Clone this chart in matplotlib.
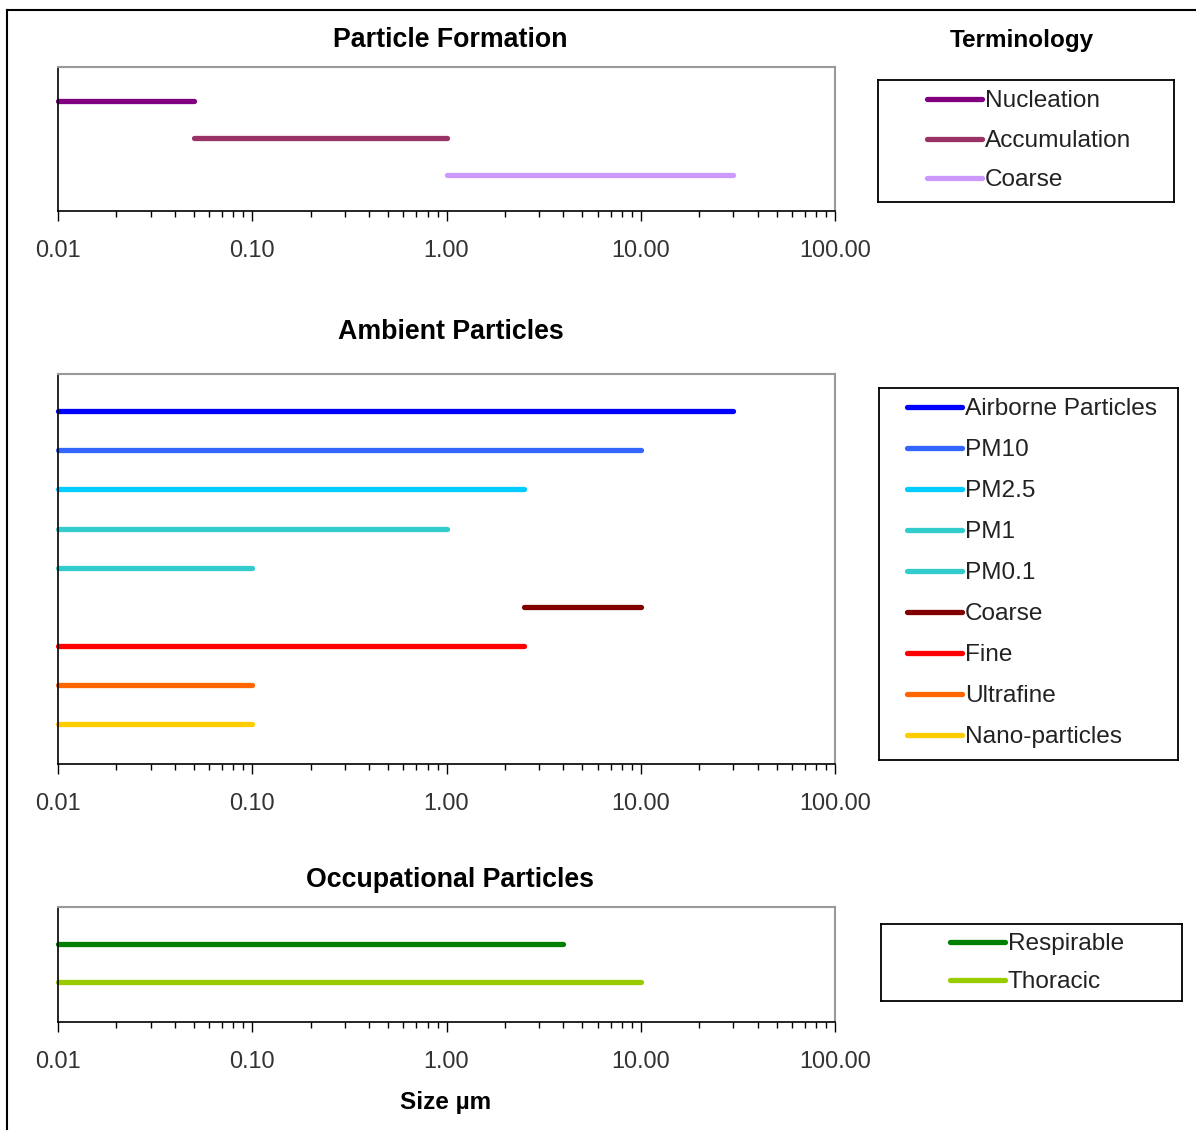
import matplotlib
matplotlib.use("Agg")
import matplotlib.pyplot as plt
from matplotlib.lines import Line2D
from matplotlib.ticker import FixedLocator, LogLocator, NullFormatter

# ---------------- data ----------------
formation_labels = ["Nucleation", "Accumulation", "Coarse"]
formation_start = [0.01, 0.05, 1.0]
formation_end = [0.05, 1.0, 30.0]
formation_colors = ["#800080", "#993366", "#CC99FF"]

ambient_labels = ["Airborne Particles", "PM10", "PM2.5", "PM1", "PM0.1",
                  "Coarse", "Fine", "Ultrafine", "Nano-particles"]
ambient_start = [0.01, 0.01, 0.01, 0.01, 0.01, 2.5, 0.01, 0.01, 0.01]
ambient_end = [30.0, 10.0, 2.5, 1.0, 0.1, 10.0, 2.5, 0.1, 0.1]
ambient_colors = ["#0000FF", "#3366FF", "#00CCFF", "#33CCCC", "#33CCCC",
                  "#800000", "#FF0000", "#FF6600", "#FFCC00"]

occ_labels = ["Respirable", "Thoracic"]
occ_start = [0.01, 0.01]
occ_end = [4.0, 10.0]
occ_colors = ["#008000", "#99CC00"]

tick_values = [0.01, 0.1, 1, 10, 100]
tick_labels = ["0.01", "0.10", "1.00", "10.00", "100.00"]

titles = ["Particle Formation", "Ambient Particles", "Occupational Particles"]
legend_title = "Terminology"
xlabel = "Size µm"

# ---------------- layout ----------------
W, H = 1196, 1130
plt.rcParams['font.family'] = ['Liberation Sans', 'DejaVu Sans']
fig = plt.figure(figsize=(W / 100, H / 100), dpi=100)
fig.patch.set_facecolor("white")


def fx(x):
    return x / W


def fy(y):
    return 1 - y / H


def add_px_axes(l, t, r, b):
    return fig.add_axes([fx(l), fy(b), fx(r) - fx(l), fy(t) - fy(b)])


# figure border (top and left)
fig.add_artist(Line2D([fx(7), fx(7)], [fy(10), fy(1135)], color="black", lw=1.5))
fig.add_artist(Line2D([fx(7), fx(1200)], [fy(10), fy(10)], color="black", lw=1.5))

panels = [
    dict(box=(58, 67, 835, 211), ylim=(3.97, 0.08), title_y=40,
         labels=formation_labels, start=formation_start, end=formation_end,
         colors=formation_colors,
         leg=dict(box=(878, 80, 1174, 202), hx=(927, 982), tx=985, rows=[99, 139, 178])),
    dict(box=(58, 374, 835, 764), ylim=(10.02, 0.05), title_y=332,
         labels=ambient_labels, start=ambient_start, end=ambient_end,
         colors=ambient_colors,
         leg=dict(box=(879, 388, 1178, 760), hx=(907, 962), tx=965,
                  rows=[407 + 41 * i for i in range(9)])),
    dict(box=(58, 907, 835, 1022), ylim=(3.05, 0.03), title_y=880,
         labels=occ_labels, start=occ_start, end=occ_end, colors=occ_colors,
         leg=dict(box=(881, 924, 1182, 1001), hx=(950, 1005), tx=1008, rows=[942, 980])),
]

for i, p in enumerate(panels):
    l, t, r, b = p["box"]
    ax = add_px_axes(l, t, r, b)
    ax.set_xscale("log")
    ax.set_xlim(0.01, 100)
    ax.set_ylim(*p["ylim"])
    for k, (s, e, c) in enumerate(zip(p["start"], p["end"], p["colors"])):
        ax.plot([s, e], [k + 1, k + 1], color=c, lw=3.8, solid_capstyle="round",
                clip_on=False)
    ax.xaxis.set_major_locator(FixedLocator(tick_values))
    ax.set_xticklabels(tick_labels)
    ax.xaxis.set_minor_locator(LogLocator(base=10, subs=[2, 3, 4, 5, 6, 7, 8, 9]))
    ax.xaxis.set_minor_formatter(NullFormatter())
    ax.tick_params(axis="x", which="major", direction="out", length=7, width=1,
                   color="black", labelsize=16.8, labelcolor="#333333", pad=13)
    ax.tick_params(axis="x", which="minor", direction="out", length=4, width=1,
                   color="black")
    ax.set_yticks([])
    for sp in ["left", "bottom"]:
        ax.spines[sp].set_color("black")
        ax.spines[sp].set_linewidth(1.2)
    for sp in ["top", "right"]:
        ax.spines[sp].set_color("#999999")
        ax.spines[sp].set_linewidth(1.5)
    fig.text(fx((l + r) / 2 + 4), fy(p["title_y"]), titles[i], ha="center",
             va="center", fontsize=19.3, fontweight="bold", color="black")

    # legend box
    lg = p["leg"]
    bl, bt, br, bb = lg["box"]
    lax = add_px_axes(bl, bt, br, bb)
    lax.set_xlim(bl, br)
    lax.set_ylim(bb, bt)
    lax.set_xticks([])
    lax.set_yticks([])
    for sp in lax.spines.values():
        sp.set_color("black")
        sp.set_linewidth(1.3)
    for lab, c, ry in zip(p["labels"], p["colors"], lg["rows"]):
        lax.plot(lg["hx"], [ry, ry], color=c, lw=3.8, solid_capstyle="round")
        lax.text(lg["tx"], ry + 2, lab, ha="left", va="center", fontsize=17.6,
                 color="#222222")

fig.text(fx(1022), fy(41), legend_title, ha="center", va="center",
         fontsize=17.5, fontweight="bold", color="black")
fig.text(fx(446), fy(1103), xlabel, ha="center", va="center",
         fontsize=17.5, fontweight="bold", color="black")

fig.savefig("out.png", dpi=100, facecolor="white")
